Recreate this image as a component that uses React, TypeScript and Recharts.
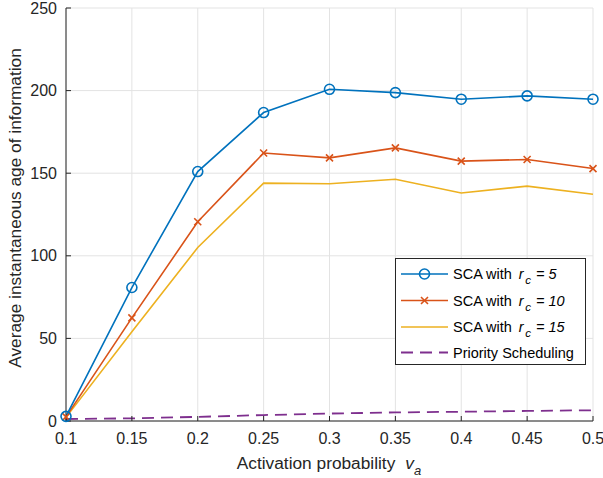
import { LineChart, Line, XAxis, YAxis, CartesianGrid, Label } from 'recharts'

const probabilities = [0.1, 0.15, 0.2, 0.25, 0.3, 0.35, 0.4, 0.45, 0.5]
const sca5 = [2.8, 80.8, 151, 186.7, 200.8, 198.8, 194.8, 196.8, 194.8]
const sca10 = [2.5, 62.4, 120.6, 162.2, 159.3, 165.3, 157.3, 158.3, 152.8]
const sca15 = [2.2, 54, 105, 144, 143.6, 146.3, 138, 142.2, 137.3]
const priority = [1.2, 1.6, 2.5, 3.6, 4.5, 5.2, 5.6, 6.1, 6.5]

const xTicks = [0.1, 0.15, 0.2, 0.25, 0.3, 0.35, 0.4, 0.45, 0.5]
const yTicks = [0, 50, 100, 150, 200, 250]
const rcValues = ['5', '10', '15']

const BLUE = '#0072BD'
const RED = '#D95319'
const YELLOW = '#EDB120'
const PURPLE = '#7E2F8E'
const INK = '#262626'
const FONT = '"Liberation Sans", Arial, sans-serif'

const data = probabilities.map((p, i) => ({
  p,
  sca5: sca5[i],
  sca10: sca10[i],
  sca15: sca15[i],
  priority: priority[i],
}))

const CircleDot = (props: any) => {
  const { cx, cy } = props
  return <circle cx={cx} cy={cy} r={5} fill="none" stroke={BLUE} strokeWidth={1.6} />
}

const CrossDot = (props: any) => {
  const { cx, cy } = props
  const s = 3.5
  return (
    <path
      d={`M${cx - s},${cy - s}L${cx + s},${cy + s}M${cx - s},${cy + s}L${cx + s},${cy - s}`}
      stroke={RED}
      strokeWidth={1.6}
      fill="none"
    />
  )
}

function ChartLegend() {
  const rowY = [16, 42.5, 69, 94.5]
  return (
    <svg
      width={191}
      height={107}
      style={{ position: 'absolute', left: 395, top: 258, fontFamily: FONT }}
    >
      <rect x={0.5} y={0.5} width={190} height={106} fill="#fff" stroke={INK} strokeWidth={1} />
      {rcValues.map((rc, i) => {
        const color = [BLUE, RED, YELLOW][i]
        const y = rowY[i]
        return (
          <g key={rc}>
            <line x1={6} x2={53} y1={y} y2={y} stroke={color} strokeWidth={1.6} />
            {i === 0 && <CircleDot cx={29.5} cy={y} />}
            {i === 1 && <CrossDot cx={29.5} cy={y} />}
            <text x={58} y={y + 5} fontSize={14.5} fill="#000">
              SCA with
              <tspan dx={7} fontStyle="italic">r</tspan>
              <tspan dx={1.5} dy={5} fontSize={11.5} fontStyle="italic">c</tspan>
              <tspan dy={-5} dx={5} fontStyle="italic">= {rc}</tspan>
            </text>
          </g>
        )
      })}
      <line x1={6} x2={53} y1={rowY[3]} y2={rowY[3]} stroke={PURPLE} strokeWidth={1.8} strokeDasharray="12 7" />
      <text x={58} y={rowY[3] + 5} fontSize={14.5} fill="#000">
        Priority Scheduling
      </text>
    </svg>
  )
}

export default function App() {
  return (
    <div style={{ position: 'absolute', left: 0, top: 0, width: 603, height: 478, background: '#fff' }}>
      <LineChart
        width={603}
        height={478}
        data={data}
        margin={{ top: 8, right: 10, bottom: 0, left: 0 }}
        style={{ fontFamily: FONT }}
      >
        <CartesianGrid stroke="#e3e3e3" strokeWidth={1} />
        <XAxis
          dataKey="p"
          type="number"
          domain={[0.1, 0.5]}
          ticks={xTicks}
          height={57}
          tickSize={-5}
          tickMargin={17}
          stroke={INK}
          tick={{ fill: INK, fontSize: 16 }}
          interval={0}
        >
          <Label
            content={() => (
              <text x={329} y={469} textAnchor="middle" fontSize={17.3} fill={INK} fontFamily={FONT}>
                Activation probability
                <tspan dx={10} fontStyle="italic">v</tspan>
                <tspan dy={6} fontSize={13} fontStyle="italic">a</tspan>
              </text>
            )}
          />
        </XAxis>
        <XAxis
          xAxisId="top"
          orientation="top"
          dataKey="p"
          type="number"
          domain={[0.1, 0.5]}
          ticks={xTicks}
          height={0}
          tickSize={-5}
          stroke={INK}
          tickFormatter={() => ''}
          interval={0}
        />
        <YAxis
          type="number"
          domain={[0, 250]}
          ticks={yTicks}
          width={66}
          tickSize={-5}
          tickMargin={14}
          stroke={INK}
          tick={{ fill: INK, fontSize: 16 }}
          interval={0}
        >
          <Label
            content={() => (
              <text
                x={21}
                y={208}
                transform="rotate(-90 21 208)"
                textAnchor="middle"
                fontSize={17.3}
                fill={INK}
                fontFamily={FONT}
              >
                Average instantaneous age of information
              </text>
            )}
          />
        </YAxis>
        <YAxis
          yAxisId="right"
          orientation="right"
          type="number"
          domain={[0, 250]}
          ticks={yTicks}
          width={0}
          tickSize={-5}
          stroke={INK}
          tickFormatter={() => ''}
          interval={0}
        />
        <Line
          dataKey="priority"
          stroke={PURPLE}
          strokeWidth={1.8}
          strokeDasharray="12 7"
          dot={false}
          isAnimationActive={false}
        />
        <Line dataKey="sca15" stroke={YELLOW} strokeWidth={1.6} dot={false} isAnimationActive={false} />
        <Line dataKey="sca10" stroke={RED} strokeWidth={1.6} dot={<CrossDot />} isAnimationActive={false} />
        <Line dataKey="sca5" stroke={BLUE} strokeWidth={1.6} dot={<CircleDot />} isAnimationActive={false} />
      </LineChart>
      <ChartLegend />
    </div>
  )
}
